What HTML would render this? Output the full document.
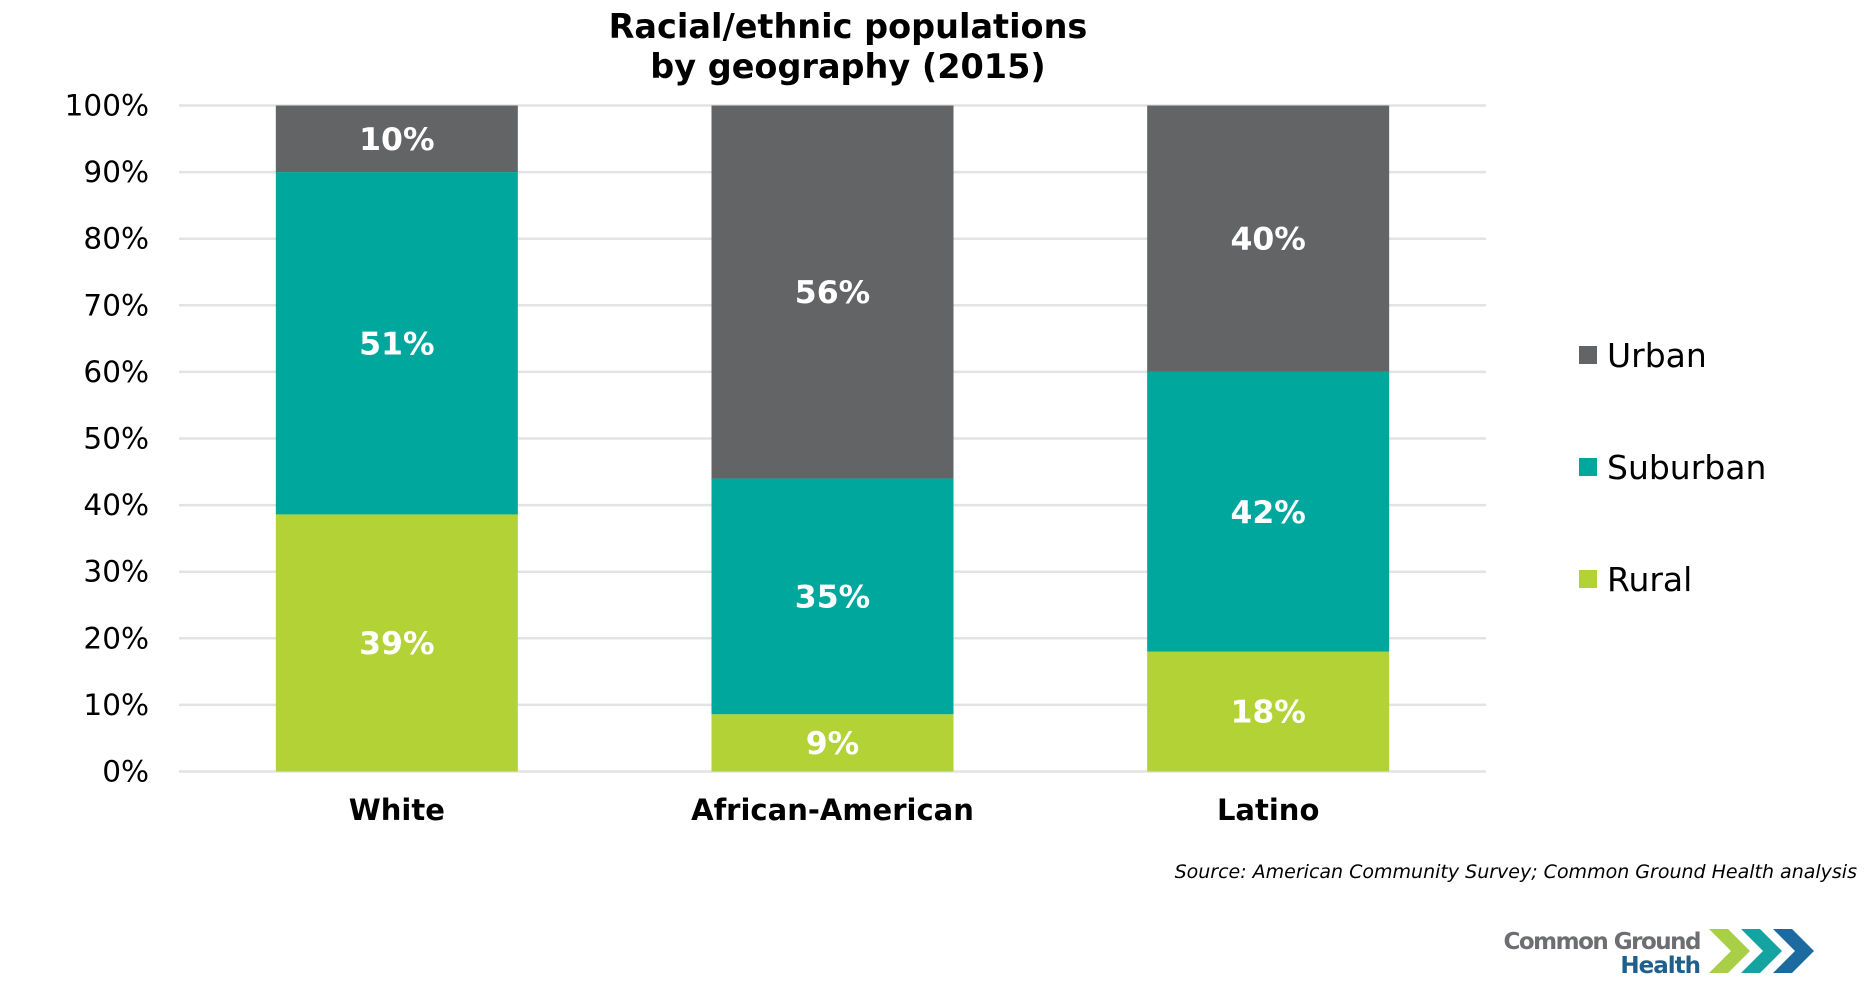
<!DOCTYPE html>
<html><head><meta charset="utf-8">
<style>
html,body{margin:0;padding:0;background:#fff;}
body{width:1872px;height:1002px;overflow:hidden;font-family:"DejaVu Sans","Liberation Sans",sans-serif;}
svg{display:block}
</style></head>
<body>
<svg id="chart" width="1872" height="1002" xmlns="http://www.w3.org/2000/svg">
<text x="848" y="38" text-anchor="middle" font-size="33.5" font-weight="bold" fill="#000">Racial/ethnic populations</text>
<text x="848" y="78" text-anchor="middle" font-size="33.5" font-weight="bold" fill="#000">by geography (2015)</text>
<g id="grid"></g>
<g id="bars"></g>
<g id="legend">
  <rect x="1579" y="346" width="18" height="18" fill="#636466"/>
  <text x="1607" y="367" font-size="33" fill="#000">Urban</text>
  <rect x="1579" y="458" width="18" height="18" fill="#00A79D"/>
  <text x="1607" y="479" font-size="33" fill="#000">Suburban</text>
  <rect x="1579" y="570" width="18" height="18" fill="#B2D235"/>
  <text x="1607" y="591" font-size="33" fill="#000">Rural</text>
</g>
<text x="1857" y="878" text-anchor="end" font-size="19" font-style="italic" fill="#000">Source: American Community Survey; Common Ground Health analysis</text>
<g>
  <text x="1700" y="949" text-anchor="end" font-size="23" font-weight="bold" fill="#6d6e71" letter-spacing="-1.5">Common Ground</text>
  <text x="1700" y="973" text-anchor="end" font-size="23" font-weight="bold" fill="#1f5f8b" letter-spacing="-1">Health</text>
  <polygon points="1709,929 1728,929 1750,951 1728,973 1709,973 1731,951" fill="#a8cf45"/>
  <polygon points="1741,929 1760,929 1782,951 1760,973 1741,973 1763,951" fill="#14a3a0"/>
  <polygon points="1773,929 1792,929 1814,951 1792,973 1773,973 1795,951" fill="#1c6aa0"/>
</g>
</svg>
<script>
const categories = ["White", "African-American", "Latino"];
const rural = [38.6, 8.6, 18];
const suburban = [51.4, 35.4, 42];
const urban = [10, 56, 40];
const ruralLabels = ["39%", "9%", "18%"];
const suburbanLabels = ["51%", "35%", "42%"];
const urbanLabels = ["10%", "56%", "40%"];
const yTicks = [0,10,20,30,40,50,60,70,80,90,100];

const NS = "http://www.w3.org/2000/svg";
const plotL = 179, plotR = 1486, yTop = 105.5, yBot = 771.5;
const bandW = (plotR - plotL) / categories.length;
const barW = 242;
function y(v){ return yBot - (v/100)*(yBot-yTop); }
function xc(i){ return plotL + bandW*(i+0.5); }
function mk(tag, attrs, parent){ const e=document.createElementNS(NS,tag); for(const k in attrs) e.setAttribute(k,attrs[k]); parent.appendChild(e); return e; }

const grid = document.getElementById('grid');
yTicks.forEach(t=>{
  const l = mk('line',{x1:plotL,x2:plotR,y1:y(t),y2:y(t),stroke:'#e3e3e3','stroke-width':2.5},grid);
  
  
  const tx = mk('text',{x:149,y:y(t)+10,'text-anchor':'end','font-size':29.5,fill:'#000'},grid);
  tx.textContent = t + '%';
  
  
});

const bars = document.getElementById('bars');
const series = [
  {vals:rural, labels:ruralLabels, color:'#B2D235', name:'rural'},
  {vals:suburban, labels:suburbanLabels, color:'#00A79D', name:'suburban'},
  {vals:urban, labels:urbanLabels, color:'#636466', name:'urban'}
];
categories.forEach((c,i)=>{
  let base = 0;
  series.forEach(s=>{
    const v = s.vals[i];
    const r = mk('rect',{x:xc(i)-barW/2,y:y(base+v),width:barW,height:y(base)-y(base+v),fill:s.color},bars);
    
    
    const t = mk('text',{x:xc(i),y:(y(base)+y(base+v))/2+11,'text-anchor':'middle','font-size':31.5,'font-weight':'bold',fill:'#fff'},bars);
    t.textContent = s.labels[i];
    
    
    base += v;
  });
  const cl = mk('text',{x:xc(i),y:820,'text-anchor':'middle','font-size':29,'font-weight':'bold',fill:'#000'},bars);
  cl.textContent = c;
  
  
});
</script>
</body></html>
